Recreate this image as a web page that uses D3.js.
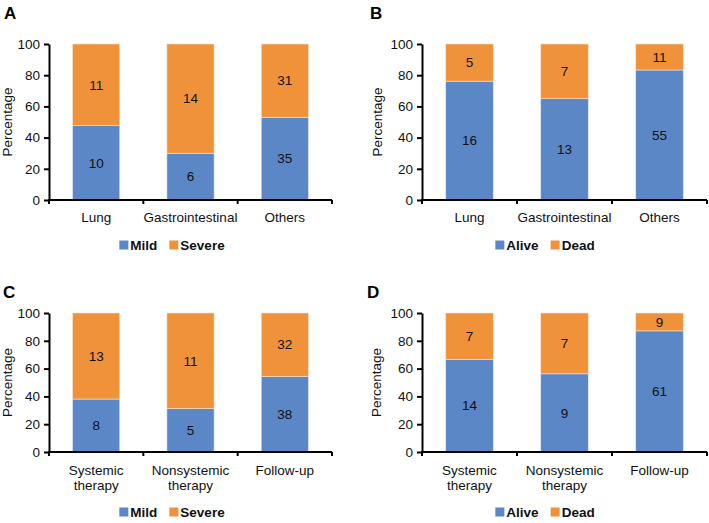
<!DOCTYPE html>
<html>
<head>
<meta charset="utf-8">
<script src="https://cdn.jsdelivr.net/npm/d3@7"></script>
<style>
	body { margin: 0; background: #fff; }
	svg { font-family: "Liberation Sans", Arial, sans-serif; }
	.domain { stroke: #000; stroke-width: 2; }
	.tick line { stroke: #000; stroke-width: 2; }
</style>
</head>
<body>
<div id="chart"></div>
<script>
const siteCategories = ["Lung", "Gastrointestinal", "Others"];
const therapyCategories = [["Systemic", "therapy"], ["Nonsystemic", "therapy"], ["Follow-up"]];

const severityLabels = ["Mild", "Severe"];
const outcomeLabels = ["Alive", "Dead"];

// counts per category, [first series, second series]
const siteMild = [10, 6, 35];
const siteSevere = [11, 14, 31];
const siteAlive = [16, 13, 55];
const siteDead = [5, 7, 11];
const therapyMild = [8, 5, 38];
const therapySevere = [13, 11, 32];
const therapyAlive = [14, 9, 61];
const therapyDead = [7, 7, 9];

const yTicks = [0, 20, 40, 60, 80, 100];

const colors = ["#5b87c6", "#f0923a"];

const svg = d3.select("#chart")
	.append("svg")
	.attr("width", 709)
	.attr("height", 523);

/**
 * Draws one panel of stacked percentage bars.
 */
function drawPanel(p) {
	const g = svg.append("g");

	const x = d3.scaleBand()
		.domain(d3.range(p.cats.length))
		.range([p.left, p.right])
		.paddingInner(0.5)
		.paddingOuter(0.25);

	const y = d3.scaleLinear()
		.domain([0, 100])
		.range([p.bottom, p.top]);

	const rows = p.cats.map((c, i) => {
		const total = p.a[i] + p.b[i];
		return { i: i, a: p.a[i], b: p.b[i], pa: p.a[i] / total * 100 };
	});

	// bars
	rows.forEach(d => {
		g.append("rect")
			.attr("x", x(d.i))
			.attr("width", x.bandwidth())
			.attr("y", y(d.pa))
			.attr("height", y(0) - y(d.pa))
			.attr("fill", colors[0])
			.attr("stroke", "#dfe8f5")
			.attr("stroke-width", 0.6);
		g.append("rect")
			.attr("x", x(d.i))
			.attr("width", x.bandwidth())
			.attr("y", y(100))
			.attr("height", y(d.pa) - y(100))
			.attr("fill", colors[1])
			.attr("stroke", "#fbe3cc")
			.attr("stroke-width", 0.6);

		g.append("text")
			.attr("x", x(d.i) + x.bandwidth() / 2)
			.attr("y", y(d.pa / 2))
			.attr("dy", "0.35em")
			.attr("text-anchor", "middle")
			.attr("font-size", 13.5)
			.attr("fill", "#111")
			.text(d.a);
		g.append("text")
			.attr("x", x(d.i) + x.bandwidth() / 2)
			.attr("y", y((d.pa + 100) / 2))
			.attr("dy", "0.35em")
			.attr("text-anchor", "middle")
			.attr("font-size", 13.5)
			.attr("fill", "#111")
			.text(d.b);
	});

	// y axis
	g.append("g")
		.attr("transform", "translate(" + p.left + ",0)")
		.call(d3.axisLeft(y).tickValues(yTicks).tickSize(5).tickSizeOuter(0).tickPadding(4))
		.call(a => a.selectAll("text").attr("font-size", 13.5).attr("fill", "#111").attr("font-family", null));

	// x axis: line plus ticks at band boundaries
	const step = x.step();
	const bounds = d3.range(p.cats.length + 1).map(k => p.left + k * step);
	g.append("line")
		.attr("x1", p.left - 1).attr("x2", p.right)
		.attr("y1", p.bottom).attr("y2", p.bottom)
		.attr("stroke", "#000").attr("stroke-width", 2);
	g.selectAll(".xt")
		.data(bounds)
		.enter().append("line")
		.attr("x1", d => d).attr("x2", d => d)
		.attr("y1", p.bottom).attr("y2", p.bottom + 4)
		.attr("stroke", "#000").attr("stroke-width", 2);

	// category labels
	p.cats.forEach((c, i) => {
		const lines = Array.isArray(c) ? c : [c];
		const t = g.append("text")
			.attr("text-anchor", "middle")
			.attr("font-size", 13.5)
			.attr("fill", "#111");
		lines.forEach((ln, k) => {
			t.append("tspan")
				.attr("x", x(i) + x.bandwidth() / 2)
				.attr("y", p.catY + k * 15)
				.text(ln);
		});
	});

	// y title
	g.append("text")
		.attr("transform", "translate(" + p.titleX + "," + ((p.top + p.bottom) / 2) + ") rotate(-90)")
		.attr("dy", "0.35em")
		.attr("text-anchor", "middle")
		.attr("font-size", 13.5)
		.attr("fill", "#111")
		.text("Percentage");

	// panel letter
	g.append("text")
		.attr("x", p.letterX)
		.attr("y", p.letterY)
		.attr("font-size", 17)
		.attr("font-weight", "bold")
		.text(p.letter);

	// legend
	const leg = g.append("g");
	let cx = 0;
	p.legend.forEach((name, k) => {
		leg.append("rect")
			.attr("x", cx).attr("y", -4.5)
			.attr("width", 9).attr("height", 9)
			.attr("fill", colors[k]);
		const t = leg.append("text")
			.attr("x", cx + 11)
			.attr("dy", "0.35em")
			.attr("font-size", 13.5)
			.attr("font-weight", "bold")
			.attr("fill", "#111")
			.text(name);
		cx += 11 + t.node().getComputedTextLength() + 12;
	});
	const w = cx - 12;
	leg.attr("transform", "translate(" + (p.left + 123 - w / 2) + "," + p.legendY + ")");
}

drawPanel({ letter: "A", letterX: 4, letterY: 19, left: 49, right: 332, top: 44, bottom: 200,
	cats: siteCategories, a: siteMild, b: siteSevere, legend: severityLabels,
	catY: 222, legendY: 245, titleX: 7 });
drawPanel({ letter: "B", letterX: 370, letterY: 19, left: 422, right: 707, top: 44, bottom: 200,
	cats: siteCategories, a: siteAlive, b: siteDead, legend: outcomeLabels,
	catY: 222, legendY: 245, titleX: 377 });
drawPanel({ letter: "C", letterX: 3, letterY: 298, left: 49, right: 332, top: 313, bottom: 452,
	cats: therapyCategories, a: therapyMild, b: therapySevere, legend: severityLabels,
	catY: 475, legendY: 512, titleX: 7 });
drawPanel({ letter: "D", letterX: 367, letterY: 298, left: 422, right: 707, top: 313, bottom: 452,
	cats: therapyCategories, a: therapyAlive, b: therapyDead, legend: outcomeLabels,
	catY: 475, legendY: 512, titleX: 376 });
</script>
</body>
</html>
